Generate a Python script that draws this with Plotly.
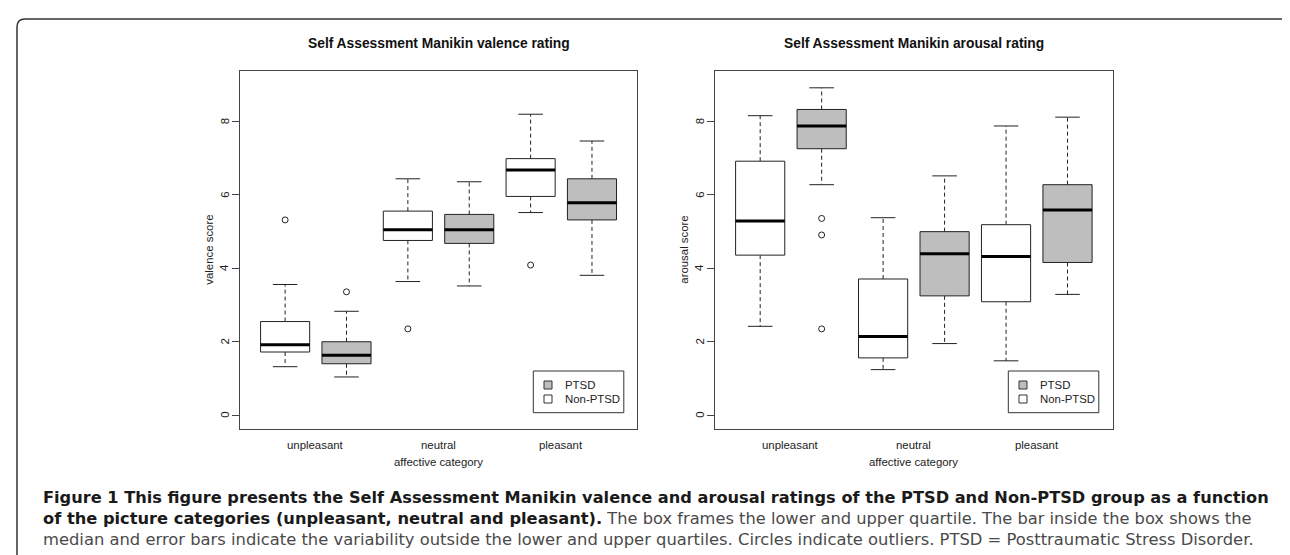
import plotly.graph_objects as go

W, H = 1290, 555

categories = ["unpleasant", "neutral", "pleasant"]
groups = ["Non-PTSD", "PTSD", "Non-PTSD", "PTSD", "Non-PTSD", "PTSD"]
legend_order = ["PTSD", "Non-PTSD"]
y_ticks = [0, 2, 4, 6, 8]

# valence ratings, box order: unpleasant (Non-PTSD, PTSD), neutral (...), pleasant (...)
val_low = [1.32, 1.04, 3.64, 3.52, 5.52, 3.81]
val_q1 = [1.72, 1.40, 4.76, 4.68, 5.96, 5.32]
val_med = [1.92, 1.63, 5.05, 5.05, 6.68, 5.79]
val_q3 = [2.55, 2.00, 5.56, 5.47, 6.99, 6.44]
val_high = [3.56, 2.83, 6.44, 6.36, 8.20, 7.47]
val_out = [[5.32], [3.36], [2.35], [], [4.09], []]

# arousal ratings, same order
aro_low = [2.42, 6.28, 1.24, 1.95, 1.48, 3.29]
aro_q1 = [4.36, 7.26, 1.56, 3.25, 3.09, 4.16]
aro_med = [5.29, 7.88, 2.14, 4.40, 4.32, 5.59]
aro_q3 = [6.92, 8.33, 3.71, 5.00, 5.19, 6.28]
aro_high = [8.16, 8.92, 5.38, 6.52, 7.88, 8.12]
aro_out = [[], [5.36, 4.91, 2.35], [], [], [], []]

FILL = {"PTSD": "#BEBEBE", "Non-PTSD": "#FFFFFF"}
LINE = "#222222"
TXT = "#222222"
FONT = "Liberation Sans, Arial, Helvetica, sans-serif"


def px(x):
    return x / W


def py(y):
    return 1 - y / H


def add_panel(fig, xa, ya, low, q1, med, q3, high, out):
    pos = list(range(1, len(med) + 1))
    hw, cw = 0.4, 0.2

    wx, wy = [], []
    cx, cy = [], []
    mx, my = [], []
    ox, oy = [], []
    for i, x in enumerate(pos):
        wx += [x, x, None, x, x, None]
        wy += [q3[i], high[i], None, q1[i], low[i], None]
        cx += [x - cw, x + cw, None, x - cw, x + cw, None]
        cy += [high[i], high[i], None, low[i], low[i], None]
        mx += [x - hw, x + hw, None]
        my += [med[i], med[i], None]
        for v in out[i]:
            ox.append(x)
            oy.append(v)

    common = dict(xaxis=xa, yaxis=ya, showlegend=False, hoverinfo="skip")

    # dashed whiskers
    fig.add_trace(go.Scatter(x=wx, y=wy, mode="lines",
                             line=dict(color=LINE, width=1, dash="4px,3px"), **common))
    # boxes
    for g in ["Non-PTSD", "PTSD"]:
        bx, by = [], []
        for i, x in enumerate(pos):
            if groups[i] != g:
                continue
            bx += [x - hw, x + hw, x + hw, x - hw, x - hw, None]
            by += [q1[i], q1[i], q3[i], q3[i], q1[i], None]
        fig.add_trace(go.Scatter(x=bx, y=by, mode="lines", fill="toself",
                                 fillcolor=FILL[g], line=dict(color=LINE, width=1),
                                 **common))
    # medians
    fig.add_trace(go.Scatter(x=mx, y=my, mode="lines",
                             line=dict(color="#000000", width=3), **common))
    # whisker caps
    fig.add_trace(go.Scatter(x=cx, y=cy, mode="lines",
                             line=dict(color=LINE, width=1), **common))
    # outliers
    fig.add_trace(go.Scatter(x=ox, y=oy, mode="markers",
                             marker=dict(symbol="circle-open", size=6,
                                         color=LINE, line=dict(width=1)),
                             **common))
    return pos


fig = go.Figure()
pos = add_panel(fig, "x", "y", val_low, val_q1, val_med, val_q3, val_high, val_out)
add_panel(fig, "x2", "y2", aro_low, aro_q1, aro_med, aro_q3, aro_high, aro_out)
cat_pos = [(pos[2 * k] + pos[2 * k + 1]) / 2 for k in range(len(categories))]

frames = [(231.7, 629.4), (706.7, 1105.0)]
top, bottom = 63.3, 420.7

axis_x = dict(range=[0.26, 6.74], showticklabels=False, ticks="",
              showline=True, mirror=True, linecolor="#444444", linewidth=1,
              showgrid=False, zeroline=False, fixedrange=True)
axis_y = dict(range=[-0.37, 9.37], tickvals=y_ticks, showticklabels=False,
              showline=True, mirror=True, linecolor="#444444", linewidth=1,
              ticks="outside", ticklen=7, tickcolor="#444444",
              showgrid=False, zeroline=False, fixedrange=True)

fig.update_layout(
    width=W, height=H,
    margin=dict(l=0, r=0, t=0, b=0, pad=0),
    paper_bgcolor="white", plot_bgcolor="white",
    font=dict(family=FONT, color=TXT),
    showlegend=False,
    xaxis=dict(domain=[px(frames[0][0]), px(frames[0][1])], anchor="y", **axis_x),
    yaxis=dict(domain=[py(bottom), py(top)], anchor="x", **axis_y),
    xaxis2=dict(domain=[px(frames[1][0]), px(frames[1][1])], anchor="y2", **axis_x),
    yaxis2=dict(domain=[py(bottom), py(top)], anchor="x2", **axis_y),
)

titles = ["Self Assessment Manikin valence rating", "Self Assessment Manikin arousal rating"]
ytitles = ["valence score", "arousal score"]
small = dict(size=11.4, color=TXT)
for k, (x0, x1) in enumerate(frames):
    mid = (x0 + x1) / 2
    xa = "x" if k == 0 else "x2"
    ya = "y" if k == 0 else "y2"
    fig.add_annotation(x=px(mid), y=py(35), xref="paper", yref="paper",
                       xanchor="center", yanchor="middle",
                       text="<b>" + titles[k] + "</b>", showarrow=False,
                       font=dict(size=13.8, color="#111111"))
    for c, cp in zip(categories, cat_pos):
        fig.add_annotation(x=cp, y=py(436.7), xref=xa, yref="paper",
                           xanchor="center", yanchor="middle",
                           text=c, showarrow=False, font=small)
    fig.add_annotation(x=px(mid), y=py(454), xref="paper", yref="paper",
                       xanchor="center", yanchor="middle",
                       text="affective category", showarrow=False, font=small)
    fig.add_annotation(x=px(x0 - 31), y=py((top + bottom) / 2), xref="paper", yref="paper",
                       xanchor="center", yanchor="middle",
                       text=ytitles[k], textangle=-90, showarrow=False, font=small)
    for t in y_ticks:
        fig.add_annotation(x=px(x0 - 15), y=t, xref="paper", yref=ya,
                           xanchor="center", yanchor="middle",
                           text=str(t), textangle=-90, showarrow=False, font=small)

    # legend box in the lower right corner of each panel
    lx0, lx1, ly0, ly1 = x0 + 293.6, x0 + 384.1, 363, 404.7
    fig.add_shape(type="rect", xref="paper", yref="paper",
                  x0=px(lx0), x1=px(lx1), y0=py(ly1), y1=py(ly0),
                  line=dict(color="#333333", width=1), fillcolor="white")
    for j, g in enumerate(legend_order):
        ry = 377 + 14 * j
        sx = x0 + 308.3
        fig.add_shape(type="rect", xref="paper", yref="paper",
                      x0=px(sx - 4), x1=px(sx + 4), y0=py(ry + 4), y1=py(ry - 4),
                      line=dict(color="#333333", width=1), fillcolor=FILL[g])
        fig.add_annotation(x=px(x0 + 322.8), y=py(ry), xref="paper", yref="paper",
                           xanchor="left", yanchor="middle", text=g, showarrow=False,
                           font=small)

# caption
CAP_FONT = "DejaVu Sans, Open Sans, sans-serif"
caption = [
    "<b>Figure 1 This figure presents the Self Assessment Manikin valence and arousal ratings "
    "of the PTSD and Non-PTSD group as a function</b>",
    "<b>of the picture categories (unpleasant, neutral and pleasant).</b>"
    "<span style='color:#4a4a4a'> The box frames the lower and upper quartile. "
    "The bar inside the box shows the</span>",
    "<span style='color:#4a4a4a'>median and error bars indicate the variability outside the "
    "lower and upper quartiles. Circles indicate outliers. PTSD = Posttraumatic Stress "
    "Disorder.</span>",
]
cap_sizes = [16.2, 16.25, 16.35]
for k, line in enumerate(caption):
    fig.add_annotation(x=px(33), y=py(489.5 + 21 * k), xref="paper", yref="paper",
                       xanchor="left", yanchor="middle", text=line, showarrow=False,
                       font=dict(family=CAP_FONT, size=cap_sizes[k], color="#1a1a1a"))

# rounded frame around the figure
r = 8
L, T, R, B = 9, 11, 1289, 600
path = (f"M {px(L)},{py(B)} L {px(L)},{py(T + r)} Q {px(L)},{py(T)} {px(L + r)},{py(T)} "
        f"L {px(R - r)},{py(T)} Q {px(R)},{py(T)} {px(R)},{py(T + r)} L {px(R)},{py(B)}")
fig.add_shape(type="path", path=path, xref="paper", yref="paper",
              line=dict(color="#333333", width=1.5))

fig.write_html("out.html")
